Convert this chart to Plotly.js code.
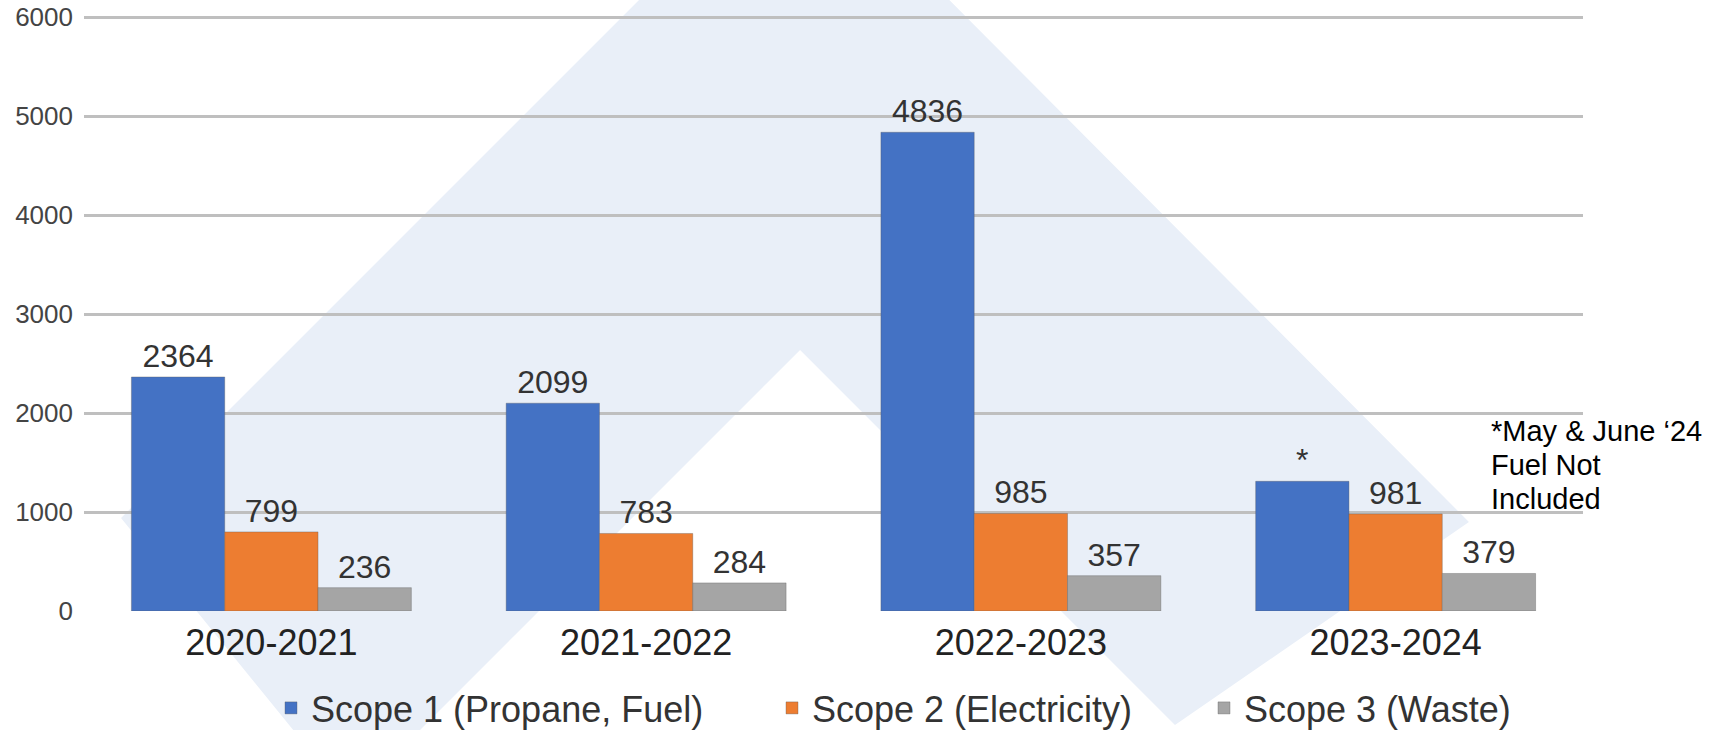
<!DOCTYPE html>
<html>
<head>
<meta charset="utf-8">
<script src="https://cdn.plot.ly/plotly-3.0.1.min.js"></script>
<style>
  html, body { margin: 0; padding: 0; background: #ffffff; }
  #chart { width: 1721px; height: 730px; }
</style>
</head>
<body>
<div id="chart"></div>
<script>
// ---- data ----
const categories = ['2020-2021', '2021-2022', '2022-2023', '2023-2024'];
const seriesNames = ['Scope 1 (Propane, Fuel)', 'Scope 2 (Electricity)', 'Scope 3 (Waste)'];
const scope1 = [2364, 2099, 4836, 1310];
const scope2 = [799, 783, 985, 981];
const scope3 = [236, 284, 357, 379];
const scope1Labels = ['2364', '2099', '4836', '*'];
const yTickVals = [0, 1000, 2000, 3000, 4000, 5000, 6000];
const noteLines = ['*May & June \u201824', 'Fuel Not', 'Included'];

// ---- styling ----
const W = 1721, H = 730;
const M = { l: 84, r: 138, t: 15, b: 119 };
const PW = W - M.l - M.r, PH = H - M.t - M.b;
const FONT = 'Arial, "Liberation Sans", sans-serif';
const colors = ['#4472c4', '#ed7d31', '#a5a5a5'];
// top of range a little above 6000 so the 6000 gridline (at y=17px) is drawn
const yMax = 6000 * (H - M.b - M.t) / (H - M.b - 17);

// pixel -> paper helpers for decorative background / note placement
const px = x => (x - M.l) / PW;
const py = y => (H - M.b - y) / PH;
const wm = [[794.5, -155.5], [121, 518], [350, 800], [800, 350], [1175, 725], [1469, 522]];
const wmPath = 'M' + wm.map(p => px(p[0]).toFixed(4) + ',' + py(p[1]).toFixed(4)).join('L') + 'Z';
const noteY = [431, 465, 499.5];

function barTrace(name, values, labels, color) {
  return {
    type: 'bar',
    name: name,
    x: categories,
    y: values,
    text: labels,
    textposition: 'outside',
    textfont: { family: FONT, size: 32, color: '#333333' },
    constraintext: 'none',
    cliponaxis: false,
    marker: { color: color, line: { color: 'rgba(90,90,90,0.35)', width: 1 } },
    hoverinfo: 'x+y+name'
  };
}

const data = [
  Object.assign(barTrace(seriesNames[0], scope1, scope1Labels, colors[0]), { legendwidth: 456 }),
  Object.assign(barTrace(seriesNames[1], scope2, scope2.map(String), colors[1]), { legendwidth: 387 }),
  barTrace(seriesNames[2], scope3, scope3.map(String), colors[2])
];

const layout = {
  width: W, height: H,
  margin: M,
  paper_bgcolor: '#ffffff',
  plot_bgcolor: 'rgba(0,0,0,0)',
  font: { family: FONT, color: '#333333' },
  barmode: 'group',
  bargap: 0.253,
  bargroupgap: 0,
  xaxis: {
    type: 'category',
    showgrid: false,
    zeroline: false,
    showline: false,
    ticks: '',
    tickfont: { family: FONT, size: 36, color: '#222222' },
    ticklabelstandoff: 7
  },
  yaxis: {
    range: [0, yMax],
    tickvals: yTickVals,
    showgrid: true,
    gridcolor: '#bfbfbf',
    gridwidth: 3,
    zeroline: false,
    showline: false,
    ticks: '',
    tickfont: { family: FONT, size: 26, color: '#444444' },
    ticklabelstandoff: 10
  },
  showlegend: true,
  legend: {
    orientation: 'h',
    x: px(271), xanchor: 'left',
    yref: 'container', y: 1 - 678 / H, yanchor: 'top',
    font: { family: FONT, size: 36, color: '#333333' },
    bgcolor: 'rgba(0,0,0,0)',
    borderwidth: 0,
    traceorder: 'normal'
  },
  shapes: [{
    type: 'path', xref: 'paper', yref: 'paper', layer: 'below',
    path: wmPath,
    fillcolor: '#e9eff8',
    line: { width: 0 }
  }],
  annotations: noteLines.map((t, i) => ({
    xref: 'paper', yref: 'paper',
    x: px(1489), y: py(noteY[i]),
    xanchor: 'left', yanchor: 'middle',
    align: 'left',
    showarrow: false,
    text: t,
    font: { family: FONT, size: 29, color: '#000000' }
  }))
};

Plotly.newPlot('chart', data, layout, { displayModeBar: false, staticPlot: true });
</script>
</body>
</html>
